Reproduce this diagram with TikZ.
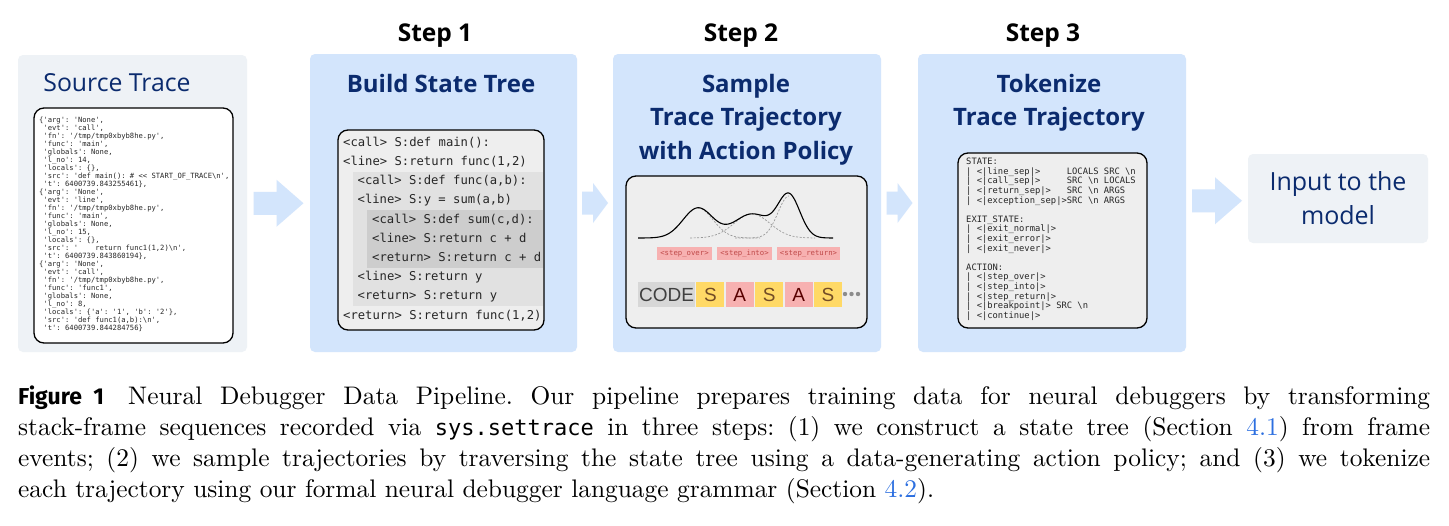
\documentclass[tikz,border=0pt]{standalone}
\usepackage{fontspec}
\setsansfont{Open Sans}
\setmonofont{DejaVu Sans Mono}
\newfontfamily\capfont{lmroman10-regular}[Extension=.otf]
\newfontfamily\figfont{Fira Sans}
\newfontfamily\tokfont{Liberation Sans}
\usetikzlibrary{positioning,calc}
\definecolor{navy}{HTML}{0B2B6E}
\definecolor{paneblue}{HTML}{D3E5FC}
\definecolor{panegray}{HTML}{EEF2F6}
\definecolor{boxgray}{HTML}{EEEEEE}
\definecolor{lvlone}{HTML}{E1E1E1}
\definecolor{lvltwo}{HTML}{CDCDCD}
\definecolor{actpink}{HTML}{F7B1B1}
\definecolor{acttext}{HTML}{C04A4A}
\definecolor{stateyel}{HTML}{FFD966}
\definecolor{codegray}{HTML}{D7D7D7}
\definecolor{linkblue}{HTML}{2C6FE0}
\begin{document}
\begin{tikzpicture}[x=1pt,y=-1pt,
  panel/.style={fill=paneblue, rounded corners=5pt, inner sep=0pt},
  graypanel/.style={fill=panegray, rounded corners=5pt, inner sep=0pt},
  box/.style={draw=black, line width=1.3pt, rounded corners=10pt, inner sep=0pt},
  steplabel/.style={font=\sffamily\bfseries\fontsize{24.5}{28}\selectfont},
  title/.style={text=navy, align=center, font=\sffamily\bfseries\fontsize{24}{33.5}\selectfont},
  codeline/.style={anchor=west, inner sep=0pt, text height=9pt, text depth=2.5pt, text=black!85, font=\ttfamily\fontsize{12.2}{14}\selectfont},
  actlabel/.style={fill=actpink, text=acttext, inner sep=0pt, minimum height=13pt, font=\ttfamily\fontsize{7.3}{8}\selectfont},
  tok/.style={inner sep=0pt, minimum height=25pt, minimum width=28pt, text height=13.5pt, text depth=0pt, font=\tokfont\fontsize{19}{22}\selectfont},
  arrowblue/.style={fill=paneblue},
  declare function={g(\x,\c,\s,\h)=\h*exp(-min(0.5*((\x-\c)/\s)^2,20));}]
\useasboundingbox (0,0) rectangle (1449,525);
\fill[white] (0,0) rectangle (1449,525);

\node[graypanel, minimum width=229pt, minimum height=297pt] (src) at (132.5,203.5) {};
\node[panel, minimum width=267pt, minimum height=298pt] (s1) at (443.5,203) {};
\node[panel, minimum width=268pt, minimum height=298pt] (s2) at (747,203) {};
\node[panel, minimum width=268pt, minimum height=298pt] (s3) at (1052,203) {};
\node[graypanel, minimum width=180pt, minimum height=89pt, text=navy, align=center, font=\sffamily\fontsize{25}{34}\selectfont] (inp) at (1338,198.5) {Input to the\\model};

\coordinate (a1) at ($(src.east)!0.5!(s1.west)$);
\coordinate (a2) at ($(s1.east)!0.5!(s2.west)$);
\coordinate (a3) at ($(s2.east)!0.5!(s3.west)$);
\coordinate (a4) at ($(s3.east)!0.5!(inp.west)$);
\fill[arrowblue] ([shift={(-25,-11.5)}]a1) -- ++(23,0) -- ++(0,-12) -- ++(27,23.5) -- ++(-27,23.5) -- ++(0,-12) -- ++(-23,0) -- cycle;
\fill[arrowblue] ([shift={(-13,-11.5)}]a2) -- ++(11,0) -- ++(0,-8.5) -- ++(15,20) -- ++(-15,20) -- ++(0,-8.5) -- ++(-11,0) -- cycle;
\fill[arrowblue] ([shift={(-13,-11.5)}]a3) -- ++(11,0) -- ++(0,-8.5) -- ++(15,20) -- ++(-15,20) -- ++(0,-8.5) -- ++(-11,0) -- cycle;
\fill[arrowblue] ([shift={(-25,-11.5)}]a4) -- ++(23,0) -- ++(0,-12) -- ++(27,23.5) -- ++(-27,23.5) -- ++(0,-12) -- ++(-23,0) -- cycle;

\node[steplabel] (lab1) at (435,36) {Step 1};
\node[steplabel] (lab2) at (741,36) {Step 2};
\node[steplabel] (lab3) at (1043,36) {Step 3};

\node[title, font=\sffamily\fontsize{24.8}{30}\selectfont] (srctitle) at (117,83) {Source Trace};
\node[title] (t1) at (441,83) {Build State Tree};
\node[title] (t2) at (746,119.5) {Sample\\Trace Trajectory\\with Action Policy};
\node[title] (t3) at (1049,103) {Tokenize\\Trace Trajectory};

\node[box, fill=white, minimum width=199pt, minimum height=235pt] (srcbox) at (133.5,225.5) {};
\node[anchor=north west, align=left, inner sep=0pt, text=black!85, font=\ttfamily\fontsize{7.18}{8}\selectfont] (trace) at (39,117) {\{'arg': 'None',\\
~'evt': 'call',\\
~'fn': '/tmp/tmp0xbyb8he.py',\\
~'func': 'main',\\
~'globals': None,\\
~'l\_no': 14,\\
~'locals': \{\},\\
~'src': 'def main(): \# << START\_OF\_TRACE\textbackslash n',\\
~'t': 6400739.843255461\},\\
\{'arg': 'None',\\
~'evt': 'line',\\
~'fn': '/tmp/tmp0xbyb8he.py',\\
~'func': 'main',\\
~'globals': None,\\
~'l\_no': 15,\\
~'locals': \{\},\\
~'src': '~~~~return func1(1,2)\textbackslash n',\\
~'t': 6400739.843860194\},\\
\{'arg': 'None',\\
~'evt': 'call',\\
~'fn': '/tmp/tmp0xbyb8he.py',\\
~'func': 'func1',\\
~'globals': None,\\
~'l\_no': 8,\\
~'locals': \{'a': '1', 'b': '2'\},\\
~'src': 'def func1(a,b):\textbackslash n',\\
~'t': 6400739.844284756\}};

\node[box, fill=boxgray, minimum width=206pt, minimum height=200pt] (treebox) at (441,230) {};
\fill[lvlone] (353,171.8) rectangle (543.4,306.2);
\fill[lvltwo] (367,210.2) rectangle (543.4,267.8);
\foreach \lv/\code [count=\i] in {
  0/{<call> S:def main():},
  0/{<line> S:return func(1,2)},
  1/{<call> S:def func(a,b):},
  1/{<line> S:y = sum(a,b)},
  2/{<call> S:def sum(c,d):},
  2/{<line> S:return c + d},
  2/{<return> S:return c + d},
  1/{<line> S:return y},
  1/{<return> S:return y},
  0/{<return> S:return func(1,2)}}
  \node[codeline] (row\i) at ({343+14.5*\lv},{123.8+19.2*\i}) {\code};

\node[box, fill=boxgray, minimum width=241pt, minimum height=152pt] (polbox) at (746.5,252) {};
\draw[black!40, line width=0.7pt, dash pattern=on 2pt off 1.6pt, domain=698:760, samples=60] plot (\x,{238-g(\x,698,15,30)});
\draw[black!40, line width=0.7pt, dash pattern=on 2pt off 1.6pt, domain=690:815, samples=90] plot (\x,{238-g(\x,752,18,24)});
\draw[black!40, line width=0.7pt, dash pattern=on 2pt off 1.6pt, domain=735:789, samples=60] plot (\x,{238-g(\x,789,11,42)});
\draw[black, line width=1.1pt, domain=638:833, samples=200] plot (\x,{238-g(\x,698,15,30)-g(\x,752,18,24)-g(\x,789,11,42)});

\node[actlabel, minimum width=55pt] (over) at (684.5,253.5) {<step\_over>};
\node[actlabel, minimum width=55pt] (into) at (744.5,253.5) {<step\_into>};
\node[actlabel, minimum width=63pt] (ret) at (808.5,253.5) {<step\_return>};

\node[tok, fill=codegray, minimum width=57pt, text=black!75] (code) at (666.5,294.5) {CODE};
\node[tok, fill=stateyel, right=1pt of code, text=brown!60!black] (tk1) {S};
\node[tok, fill=actpink, right=1pt of tk1, text=red!35!black] (tk2) {A};
\node[tok, fill=stateyel, right=1pt of tk2, text=brown!60!black] (tk3) {S};
\node[tok, fill=actpink, right=1pt of tk3, text=red!35!black] (tk4) {A};
\node[tok, fill=stateyel, right=1pt of tk4, text=brown!60!black] (tk5) {S};
\foreach \dx in {845,851.5,858}
  \fill[black!45] (\dx,294) circle (2.2pt);

\node[box, fill=boxgray, minimum width=189pt, minimum height=175pt] (tokbox) at (1052.5,240.5) {};
\node[anchor=north west, align=left, inner sep=0pt, text=black!85, font=\ttfamily\fontsize{8.8}{9.6}\selectfont] (grammar) at (966,158) {STATE:\\
| <|line\_sep|>~~~~~LOCALS SRC \textbackslash n\\
| <|call\_sep|>~~~~~SRC \textbackslash n LOCALS\\
| <|return\_sep|>~~~SRC \textbackslash n ARGS\\
| <|exception\_sep|>SRC \textbackslash n ARGS\\[9.6pt]
EXIT\_STATE:\\
| <|exit\_normal|>\\
| <|exit\_error|>\\
| <|exit\_never|>\\[9.6pt]
ACTION:\\
| <|step\_over|>\\
| <|step\_into|>\\
| <|step\_return|>\\
| <|breakpoint|> SRC \textbackslash n\\
| <|continue|>};

\node[anchor=north west, align=left, inner sep=0pt, font=\capfont\fontsize{25.4}{31}\selectfont\frenchspacing] (cap) at (18,386) {\makebox[1412pt][s]{{\figfont\bfseries\fontsize{23}{31}\selectfont Figure 1}\hspace{0.25em} Neural Debugger Data Pipeline. Our pipeline prepares training data for neural debuggers by transforming}\\
\makebox[1412pt][s]{stack-frame sequences recorded via {\ttfamily\fontsize{22}{31}\selectfont sys.settrace} in three steps: (1) we construct a state tree (Section {\color{linkblue}4.1}) from frame}\\
\makebox[1412pt][s]{events; (2) we sample trajectories by traversing the state tree using a data-generating action policy; and (3) we tokenize}\\
each trajectory using our formal neural debugger language grammar (Section {\color{linkblue}4.2}).};
\end{tikzpicture}
\end{document}
